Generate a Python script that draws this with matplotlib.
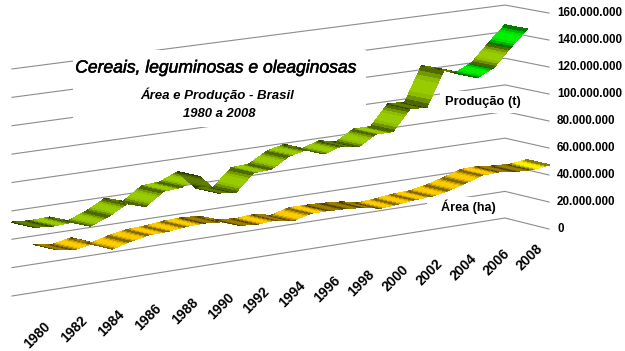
import numpy as np
import matplotlib
matplotlib.use('Agg')
import matplotlib.pyplot as plt
import matplotlib.patheffects as pe
from matplotlib.patches import Rectangle

plt.rcParams['font.family'] = ['Liberation Sans', 'DejaVu Sans']

years = list(range(1980, 2009))
# milhoes de t / ha
producao = [52, 51, 51.6, 47, 52, 59, 55, 64, 65, 70.5, 57, 55.5, 67.8, 68.5, 76, 79, 74, 78,
            75.5, 83, 83, 98, 97.5, 123, 119, 114, 120, 133, 145]
area = [40, 38, 40.5, 34.5, 38, 40.5, 41, 42.5, 43, 42, 37.5, 36.5, 37.5, 35, 38.5, 38.5,
        38, 37, 34.5, 35.5, 37, 37.5, 40, 43.5, 47.5, 48, 46.5, 46, 47.5]
niveis = [0, 20, 40, 60, 80, 100, 120, 140, 160]
niveis_txt = ['0', '20.000.000', '40.000.000', '60.000.000', '80.000.000', '100.000.000',
              '120.000.000', '140.000.000', '160.000.000']
anos_txt = years[::2]

# segmentos em verde vivo / amarelo vivo (ultimos anos)
verde_seg = [25, 27]
amarelo_seg = [27]


def proj(i, v, d):
    # ano, valor, profundidade -> pixel (com leve perspectiva)
    t = np.asarray(i, dtype=float) / 28.0
    t = t * 1.07 / (1 + 0.07 * t)
    v = np.asarray(v, dtype=float)
    x = 12 + 493 * t + 44 * d
    y = (296 - 1.419 * v) * (1 - t) + (218 - 1.331 * v) * t + d * (11 - 3 * v / 160)
    return x, y


def mix(c, f):
    return tuple(min(1, a * f) for a in c)


def ribbon(ax, vals, d0, d1, base, especial, cor_esp, z):
    shades = [0.5, 0.72, 0.92, 1.0, 1.0, 1.0, 0.92, 0.75, 0.52]
    n = len(shades)
    for s in range(len(vals) - 1):
        cor = cor_esp if s in especial else base
        fall = vals[s + 1] < vals[s]
        for k in range(n):
            a = k / n
            b = (k + 1) / n
            i0, i1 = s + a, s + b
            v0 = vals[s] + (vals[s + 1] - vals[s]) * a
            v1 = vals[s] + (vals[s + 1] - vals[s]) * b
            xa, ya = proj(i0, v0, d0)
            xb, yb = proj(i1, v1, d0)
            xc, yc = proj(i1, v1, d1)
            xd, yd = proj(i0, v0, d1)
            f = shades[k] * (0.62 if fall else 1.0)
            ax.fill([xa, xb, xc, xd], [ya, yb, yc, yd], color=mix(cor, f), lw=0.3,
                    antialiased=False, zorder=z)


fig = plt.figure(figsize=(6.25, 3.51), dpi=100)
ax = fig.add_axes([0, 0, 1, 1])
ax.set_xlim(0, 625)
ax.set_ylim(351, 0)
ax.axis('off')

for n in niveis:
    xa, ya = proj(0, n, 0)
    xb, yb = proj(28, n, 0)
    xc, yc = proj(28, n, 1)
    ax.plot([xa, xb, xc], [ya, yb, yc], color='#8c8c8c', lw=0.8, zorder=1)
    ax.text(xc + 8, yc, niveis_txt[niveis.index(n)], fontsize=8.4, fontweight='bold',
            ha='left', va='center', zorder=5)

ribbon(ax, producao, 0, 0.5, (0.6, 0.8, 0.0), verde_seg, (0.0, 0.95, 0.0), 2)
ribbon(ax, area, 0.5, 1, (1.0, 0.8, 0.0), amarelo_seg, (1.0, 0.95, 0.0), 3)

# caixas brancas atras dos textos
for r in [(73, 50, 293, 77), (440, 91, 85, 22), (427, 197, 73, 18)]:
    ax.add_patch(Rectangle((r[0], r[1]), r[2], r[3], color='white', lw=0, zorder=4))

for a in anos_txt:
    xp, yp = proj(a - 1980, 0, 1)
    ax.text(xp - 8, yp + 17, str(a), fontsize=10, fontweight='bold', rotation=45,
            rotation_mode='anchor', ha='right', va='center', zorder=5)

titulo = ax.text(216, 68, 'Cereais, leguminosas e oleaginosas', fontsize=12.6, style='italic',
                 ha='center', va='center', zorder=5)
titulo.set_path_effects([pe.withStroke(linewidth=0.4, foreground='black')])
ax.text(217, 95, 'Área e Produção - Brasil', fontsize=9.5, style='italic', fontweight='bold',
        ha='center', va='center', zorder=5)
ax.text(219, 114, '1980 a 2008', fontsize=9.4, style='italic', fontweight='bold',
        ha='center', va='center', zorder=5)
ax.text(483, 102, 'Produção (t)', fontsize=9.3, fontweight='bold', ha='center', va='center', zorder=5)
ax.text(468, 207, 'Área (ha)', fontsize=9.1, fontweight='bold', ha='center', va='center', zorder=5)

fig.savefig('out.png', dpi=100, facecolor='white')
